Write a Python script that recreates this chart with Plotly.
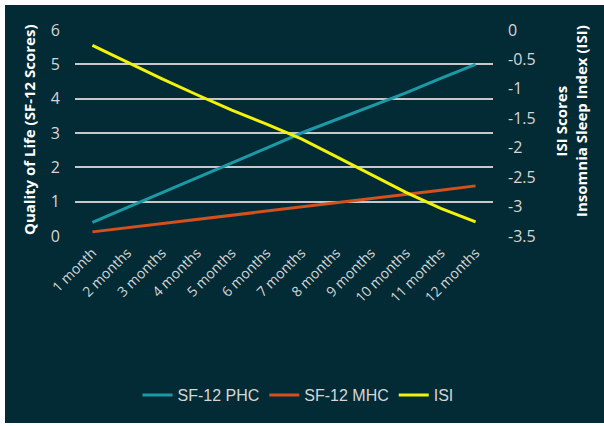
import plotly.graph_objects as go

# Months of follow-up
months = ["1 month", "2 months", "3 months", "4 months", "5 months", "6 months",
          "7 months", "8 months", "9 months", "10 months", "11 months", "12 months"]

# SF-12 physical and mental health components (left axis)
sf12_phc = [0.40, 0.83, 1.25, 1.69, 2.12, 2.56, 3.00, 3.39, 3.77, 4.17, 4.59, 5.00]
sf12_mhc = [0.12, 0.24, 0.35, 0.48, 0.61, 0.72, 0.85, 0.97, 1.07, 1.20, 1.33, 1.46]

# Insomnia Severity Index scores (right axis)
isi = [-0.26, -0.55, -0.83, -1.10, -1.36, -1.60, -1.85, -2.15, -2.46, -2.76, -3.03, -3.26]

left_ticks = [0, 1, 2, 3, 4, 5, 6]
right_ticks = [0, -0.5, -1, -1.5, -2, -2.5, -3, -3.5]
right_tick_text = ["0", "-0.5", "-1", "-1.5", "-2", "-2.5", "-3", "-3.5"]

W, H = 604, 426
ML, MR, MT, MB = 75, 111, 30, 190
PW, PH = W - ML - MR, H - MT - MB

BG = "#032B36"
GRID = "#C8C8C8"
TICK = "#D6D6D6"
FONT = "'Open Sans', sans-serif"

fig = go.Figure()
fig.add_trace(go.Scatter(x=months, y=sf12_phc, name="SF-12 PHC", mode="lines",
                         line=dict(color="#1B9AA5", width=3)))
fig.add_trace(go.Scatter(x=months, y=sf12_mhc, name="SF-12 MHC", mode="lines",
                         line=dict(color="#D4501C", width=3)))
fig.add_trace(go.Scatter(x=months, y=isi, name="ISI", mode="lines", yaxis="y2",
                         line=dict(color="#F2F20A", width=3)))


def px_x(p):
    return (p - ML) / PW


def px_y(p):
    return 1 - (p - MT) / PH


fig.update_layout(
    width=W, height=H,
    margin=dict(l=ML, r=MR, t=MT, b=MB, autoexpand=False),
    paper_bgcolor="white",
    plot_bgcolor="rgba(0,0,0,0)",
    font=dict(family=FONT, color=TICK),
    showlegend=True,
    legend=dict(orientation="h", x=px_x(298), y=px_y(395), xanchor="center",
                yanchor="middle",
                font=dict(size=16, color=TICK, family="'Liberation Sans', Arial, sans-serif"),
                bgcolor="rgba(0,0,0,0)", itemwidth=30),
    xaxis=dict(type="category", range=[-0.5, len(months) - 0.5], showgrid=False,
               zeroline=False, showline=False, tickangle=-45,
               tickfont=dict(size=14, color=TICK), ticks="", ticklabelstandoff=5,
               automargin=False),
    yaxis=dict(range=[0, 6], tickvals=left_ticks, showgrid=True, gridcolor=GRID,
               gridwidth=1.5, zeroline=False, showline=False,
               tickfont=dict(size=16, color=TICK), ticklabelstandoff=14,
               automargin=False),
    yaxis2=dict(range=[-3.5, 0], tickvals=right_ticks, ticktext=right_tick_text,
                overlaying="y", side="right", showgrid=False, zeroline=False,
                showline=False, tickfont=dict(size=16, color=TICK),
                ticklabelstandoff=14, automargin=False),
    shapes=[dict(type="rect", xref="paper", yref="paper", layer="below",
                 x0=px_x(5), x1=px_x(605), y0=px_y(423), y1=px_y(5),
                 fillcolor=BG, line=dict(width=0))],
    annotations=[
        dict(text="<b>Quality of Life (SF-12 Scores)</b>", xref="paper", yref="paper",
             x=px_x(29), y=px_y(130), xanchor="center", yanchor="middle",
             textangle=-90, showarrow=False, font=dict(size=15, color="white")),
        dict(text="<b>ISI Scores</b><br><b>Insomnia Sleep Index (ISI)</b>",
             xref="paper", yref="paper", x=px_x(571), y=px_y(121),
             xanchor="center", yanchor="middle", textangle=-90,
             showarrow=False, font=dict(size=15, color="white")),
    ],
)

fig.write_html("out.html")
